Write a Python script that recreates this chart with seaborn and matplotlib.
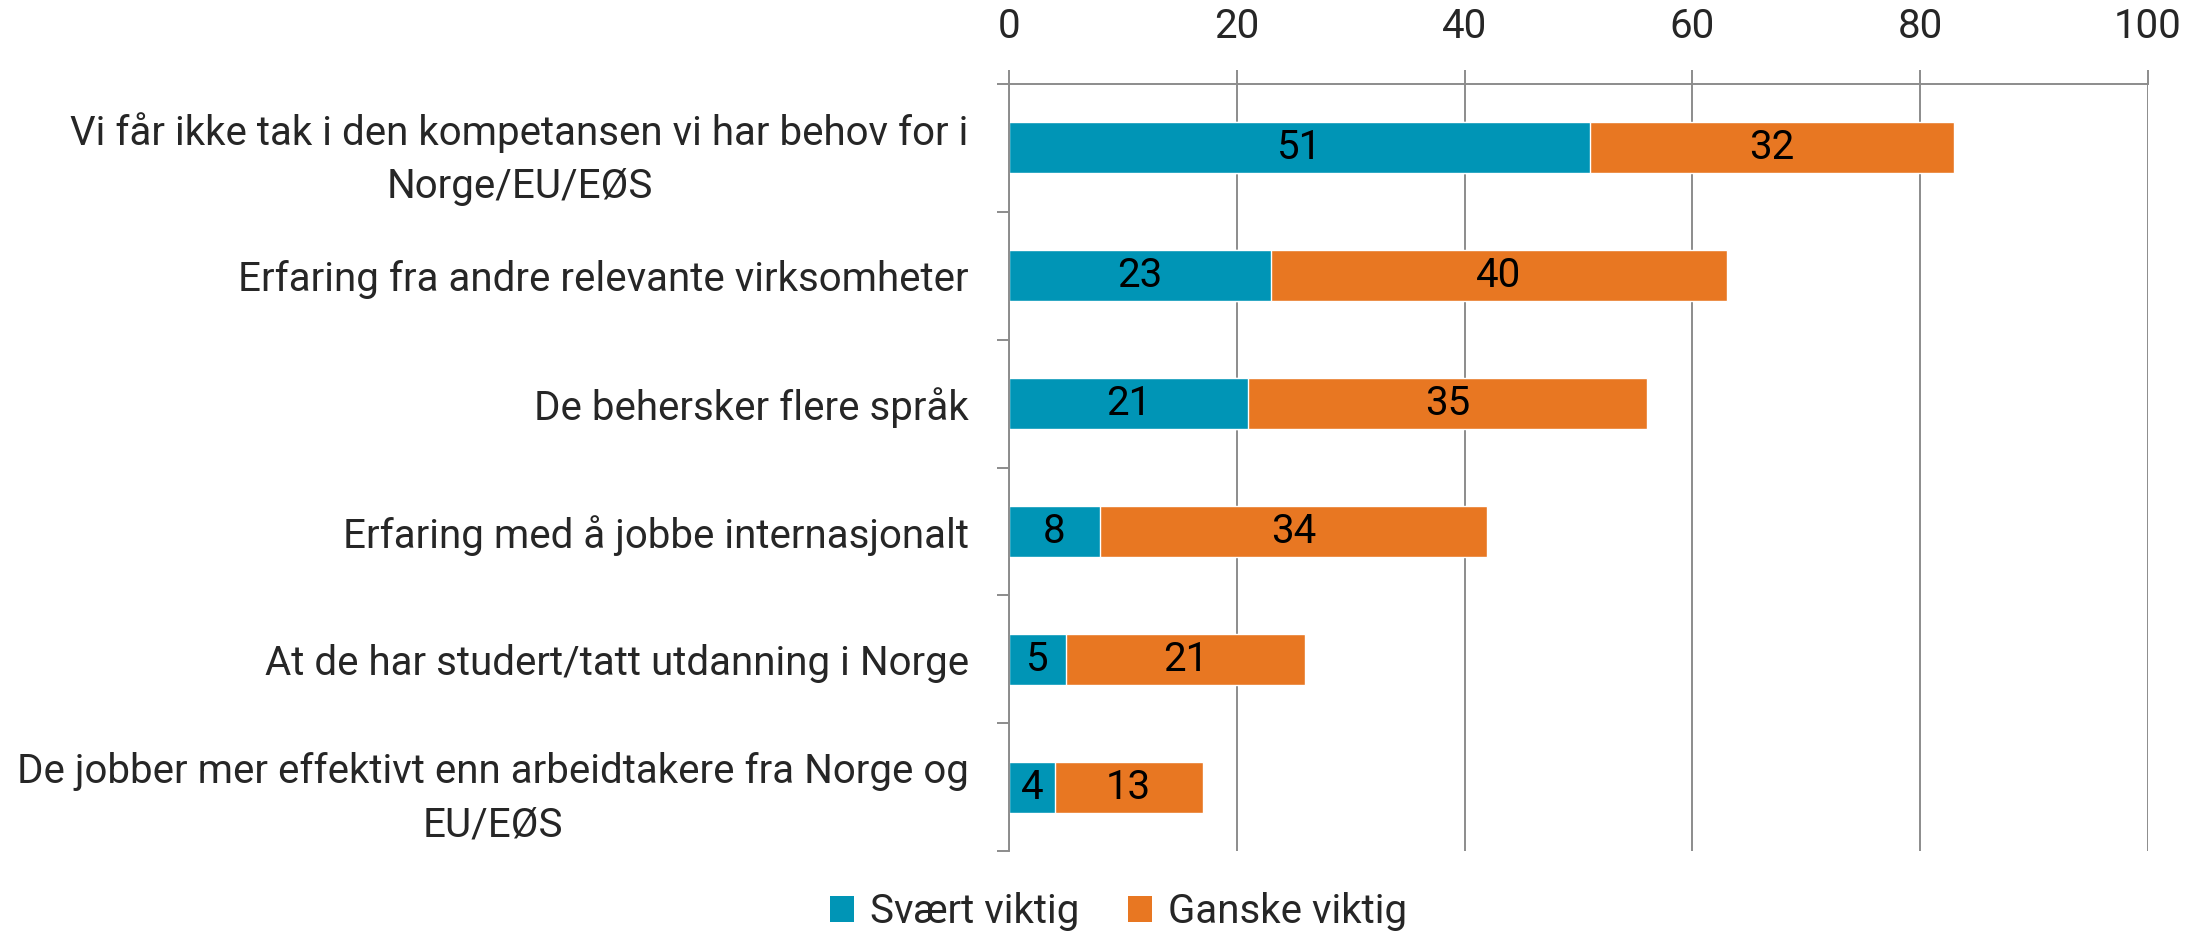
import matplotlib
matplotlib.use("Agg")
import matplotlib.pyplot as plt
import seaborn as sns
import pandas as pd
import numpy as np
from matplotlib.patches import Patch
from matplotlib.ticker import FixedLocator

categories = [
    "Vi får ikke tak i den kompetansen vi har behov for i\nNorge/EU/EØS",
    "Erfaring fra andre relevante virksomheter",
    "De behersker flere språk",
    "Erfaring med å jobbe internasjonalt",
    "At de har studert/tatt utdanning i Norge",
    "De jobber mer effektivt enn arbeidtakere fra Norge og\nEU/EØS",
]
svaert = [51, 23, 21, 8, 5, 4]
ganske = [32, 40, 35, 34, 21, 13]
series_names = ["Svært viktig", "Ganske viktig"]
xticks = [0, 20, 40, 60, 80, 100]

TEAL = "#0095B6"
ORANGE = "#E87722"
GRID = "#8C8C8C"

sns.set_theme(style="white")
plt.rcParams["font.family"] = ["Roboto", "DejaVu Sans"]
FS = 29

df = pd.DataFrame({"cat": categories, "svaert": svaert, "ganske": ganske})
df["total"] = df["svaert"] + df["ganske"]

fig = plt.figure(figsize=(22.06, 9.39), dpi=100)
ax = fig.add_axes([1009 / 2206, 1 - 851 / 939, (2148 - 1009) / 2206, (851 - 84) / 939])

sns.barplot(data=df, y="cat", x="total", color=ORANGE, orient="h", width=0.4,
            saturation=1, ax=ax, zorder=3)
sns.barplot(data=df, y="cat", x="svaert", color=TEAL, orient="h", width=0.4,
            saturation=1, ax=ax, zorder=4)

ax.set_xlim(0, 100)
ax.set_ylim(5.5, -0.5)
ax.xaxis.tick_top()
ax.set_xticks(xticks)
ax.set_xticklabels([str(t) for t in xticks], fontsize=FS)
ax.tick_params(axis="x", which="major", length=10, width=1.4, color=GRID, pad=17,
               top=True, bottom=False, labeltop=True, labelbottom=False)
ax.set_xlabel("")
ax.set_ylabel("")
ax.tick_params(axis="y", which="major", length=0, pad=29, labelsize=FS)
for lab in ax.get_yticklabels():
    lab.set_multialignment("center")
    lab.set_linespacing(1.45)
ax.yaxis.set_minor_locator(FixedLocator(np.arange(-0.5, 6, 1)))
ax.tick_params(axis="y", which="minor", length=9, width=1.4, color=GRID, left=True)

ax.grid(axis="x", color=GRID, linewidth=1.4, zorder=0)
ax.set_axisbelow(True)
for side in ["bottom", "right"]:
    ax.spines[side].set_visible(False)
for side in ["top", "left"]:
    ax.spines[side].set_visible(True)
    ax.spines[side].set_color(GRID)
    ax.spines[side].set_linewidth(1.4)
    ax.spines[side].set_zorder(5)

for i, (s, g) in enumerate(zip(svaert, ganske)):
    ax.text(s / 2, i, str(s), ha="center", va="center", fontsize=FS, color="black", zorder=6)
    ax.text(s + g / 2, i, str(g), ha="center", va="center", fontsize=FS, color="black", zorder=6)

handles = [Patch(facecolor=TEAL, edgecolor="none"), Patch(facecolor=ORANGE, edgecolor="none")]
fig.legend(handles, series_names, loc="lower center", bbox_to_anchor=(0.507, -0.03), ncol=2,
           frameon=False, fontsize=FS, handlelength=0.6, handleheight=0.6,
           handletextpad=0.4, columnspacing=1.2)

fig.savefig("out.png", dpi=100)
